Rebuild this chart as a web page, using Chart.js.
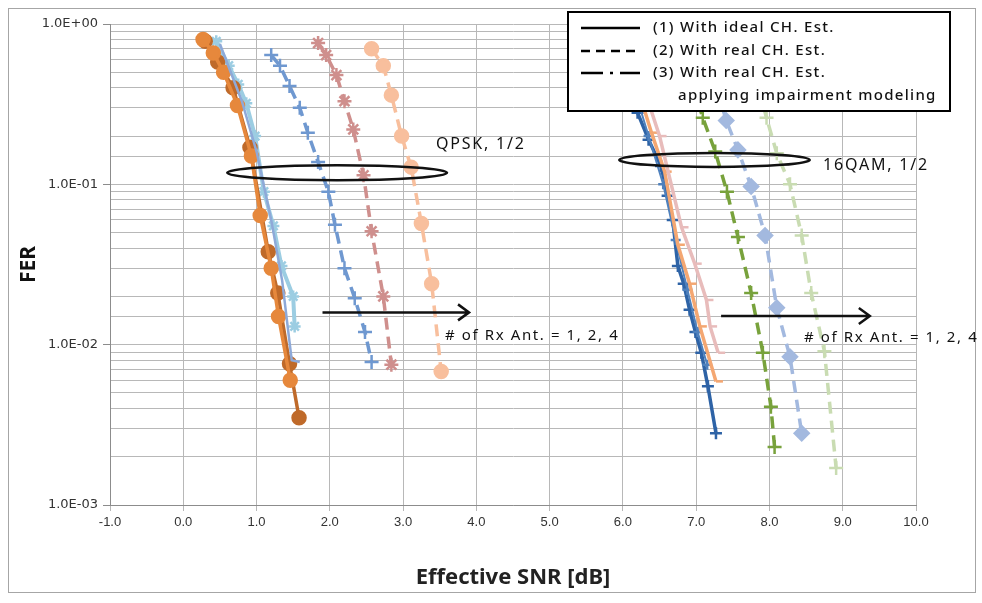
<!DOCTYPE html>
<html>
<head>
<meta charset="utf-8">
<script src="https://cdn.jsdelivr.net/npm/chart.js@4.4.0/dist/chart.umd.min.js"></script>
<style>
  html, body { margin: 0; padding: 0; background: #fff; }
  #wrap { width: 982px; height: 603px; }
</style>
</head>
<body>
<div id="wrap"><canvas id="myChart" width="982" height="603"></canvas></div>
<script>
'use strict';

// *********** DATA ***********
let xTickLabels = ['-1.0', '0.0', '1.0', '2.0', '3.0', '4.0', '5.0', '6.0', '7.0', '8.0', '9.0', '10.0'];
let yTickValues = [0.001, 0.01, 0.1, 1];
let yTickLabels = ['1.0E-03', '1.0E-02', '1.0E-01', '1.0E+00'];

// QPSK, 1/2
let qDarkOrangeSnr = [0.30, 0.47, 0.68, 0.91, 1.16, 1.29, 1.45, 1.58];
let qDarkOrangeFer = [0.78, 0.58, 0.40, 0.17, 0.038, 0.021, 0.0076, 0.0035];
let qOrangeSnr = [0.27, 0.41, 0.55, 0.74, 0.93, 1.05, 1.20, 1.30, 1.46];
let qOrangeFer = [0.80, 0.66, 0.50, 0.31, 0.15, 0.064, 0.030, 0.015, 0.006];
let qLightBlueSnr = [0.45, 0.62, 0.75, 0.86, 0.98, 1.10, 1.23, 1.34, 1.50, 1.52];
let qLightBlueFer = [0.78, 0.55, 0.42, 0.32, 0.20, 0.09, 0.055, 0.031, 0.020, 0.013];
let qBlueSnr = [0.50, 0.80, 1.00, 1.20, 1.35, 1.48, 1.59];
let qBlueFer = [0.75, 0.33, 0.16, 0.06, 0.025, 0.008, 0.0078];
let qBlueDashSnr = [1.20, 1.32, 1.45, 1.59, 1.70, 1.84, 1.98, 2.07, 2.20, 2.34, 2.48, 2.57];
let qBlueDashFer = [0.64, 0.55, 0.41, 0.30, 0.21, 0.138, 0.09, 0.056, 0.030, 0.0195, 0.012, 0.0078];
let qRoseDashSnr = [1.84, 1.95, 2.09, 2.20, 2.32, 2.46, 2.57, 2.73, 2.84];
let qRoseDashFer = [0.76, 0.64, 0.48, 0.33, 0.22, 0.114, 0.051, 0.020, 0.0075];
let qPeachDashSnr = [2.57, 2.73, 2.84, 2.98, 3.11, 3.25, 3.39, 3.52];
let qPeachDashFer = [0.70, 0.55, 0.36, 0.20, 0.128, 0.057, 0.024, 0.0068];

// 16QAM, 1/2
let mDarkBlueSnr = [6.10, 6.20, 6.35, 6.52, 6.61, 6.68, 6.75, 6.83, 6.91, 6.99, 7.07, 7.16, 7.27];
let mDarkBlueFer = [0.42, 0.28, 0.19, 0.13, 0.085, 0.06, 0.031, 0.024, 0.0165, 0.012, 0.0089, 0.0055, 0.0028];
let mBlueSnr = [6.15, 6.35, 6.55, 6.72, 6.88, 7.02, 7.15];
let mBlueFer = [0.40, 0.20, 0.10, 0.045, 0.022, 0.012, 0.0075];
let mOrangeSnr = [6.20, 6.39, 6.57, 6.75, 6.91, 7.05, 7.27];
let mOrangeFer = [0.40, 0.21, 0.12, 0.042, 0.024, 0.013, 0.0059];
let mPinkSnr = [6.30, 6.50, 6.80, 6.98, 7.14, 7.19, 7.30];
let mPinkFer = [0.38, 0.20, 0.054, 0.032, 0.019, 0.013, 0.0089];
let mGreenDashSnr = [6.95, 7.09, 7.26, 7.42, 7.57, 7.75, 7.91, 8.02, 8.07];
let mGreenDashFer = [0.42, 0.26, 0.16, 0.09, 0.047, 0.021, 0.0089, 0.0041, 0.0023];
let mLightBlueDashSnr = [7.28, 7.41, 7.57, 7.75, 7.94, 8.10, 8.28, 8.44];
let mLightBlueDashFer = [0.40, 0.25, 0.164, 0.097, 0.048, 0.017, 0.0084, 0.0028];
let mLightGreenDashSnr = [7.85, 7.96, 8.10, 8.28, 8.44, 8.57, 8.75, 8.91];
let mLightGreenDashFer = [0.40, 0.26, 0.156, 0.10, 0.048, 0.021, 0.0091, 0.0017];

// legend / annotation texts
let legendTexts = ['(1) With ideal CH. Est.', '(2) With real CH. Est.', '(3) With real CH. Est.', 'applying impairment modeling'];
let groupLabels = ['QPSK, 1/2', '16QAM, 1/2'];
let antLabel = '# of Rx Ant. = 1, 2, 4';

// ********** HELPERS *************
function toPoints(xs, ys) {
  let pts = [];
  for (let i = 0; i < xs.length; i++) {
    pts.push({ x: xs[i], y: ys[i] });
  }
  return pts;
}

function series(xs, ys, color, opts) {
  return Object.assign({
    data: toPoints(xs, ys),
    showLine: true,
    borderColor: color,
    backgroundColor: color,
    borderWidth: 3.5,
    pointRadius: 6,
    pointBorderWidth: 2.5,
    pointStyle: 'circle',
    tension: 0
  }, opts || {});
}

function isMajor(value) {
  for (let i = 0; i < yTickValues.length; i++) {
    if (Math.abs(value - yTickValues[i]) < yTickValues[i] * 1e-6) {
      return i;
    }
  }
  return -1;
}

let dash = [12, 7];

let datasets = [
  series(qBlueSnr, qBlueFer, '#8ea9d8', { pointRadius: 0, borderWidth: 2.5 }),
  series(qOrangeSnr, qOrangeFer, '#e6883c', { pointRadius: 6.5 }),
  series(qDarkOrangeSnr, qDarkOrangeFer, '#bf6a2a', { pointRadius: 6.5 }),
  series(qLightBlueSnr, qLightBlueFer, '#9ccde2', { pointStyle: 'star', pointRadius: 6, borderWidth: 4 }),
  series(qBlueDashSnr, qBlueDashFer, '#6f98d0', { borderDash: dash, pointStyle: 'cross', pointRadius: 7 }),
  series(qRoseDashSnr, qRoseDashFer, '#cf8f8d', { borderDash: dash, pointStyle: 'star', pointRadius: 7 }),
  series(qPeachDashSnr, qPeachDashFer, '#f8bf9d', { borderDash: dash, pointRadius: 6.5 }),

  series(mPinkSnr, mPinkFer, '#e8bcbb', { pointStyle: 'dash', pointRadius: 7 }),
  series(mOrangeSnr, mOrangeFer, '#f4a772', { pointStyle: 'dash', pointRadius: 7 }),
  series(mBlueSnr, mBlueFer, '#4f81bd', { pointStyle: 'cross', pointRadius: 5, borderWidth: 2 }),
  series(mDarkBlueSnr, mDarkBlueFer, '#2e63a6', { pointStyle: 'cross', pointRadius: 6 }),
  series(mGreenDashSnr, mGreenDashFer, '#78a23c', { borderDash: dash, pointStyle: 'cross', pointRadius: 7 }),
  series(mLightBlueDashSnr, mLightBlueDashFer, '#a3b9df', { borderDash: dash, pointStyle: 'rectRot', pointRadius: 7 }),
  series(mLightGreenDashSnr, mLightGreenDashFer, '#c9dcb2', { borderDash: dash, pointStyle: 'cross', pointRadius: 7 })
];

// ********** DECORATION PLUGIN ***********
let decorations = {
  id: 'decorations',
  beforeDraw(chart) {
    let c = chart.ctx;
    c.save();
    c.fillStyle = '#fff';
    c.fillRect(0, 0, chart.width, chart.height);
    c.restore();
  },
  afterDraw(chart) {
    let c = chart.ctx;
    let xs = chart.scales.x;
    let ys = chart.scales.y;
    c.save();

    // frame
    c.strokeStyle = '#a6a6a6';
    c.lineWidth = 1;
    c.strokeRect(8.5, 8.5, 967, 584);

    // group ellipses
    c.strokeStyle = '#111';
    c.lineWidth = 2.5;
    c.beginPath();
    c.ellipse((xs.getPixelForValue(0.6) + xs.getPixelForValue(3.6)) / 2, ys.getPixelForValue(0.118),
      (xs.getPixelForValue(3.6) - xs.getPixelForValue(0.6)) / 2, 7.5, 0, 0, Math.PI * 2);
    c.stroke();
    c.beginPath();
    c.ellipse((xs.getPixelForValue(5.95) + xs.getPixelForValue(8.55)) / 2, ys.getPixelForValue(0.142),
      (xs.getPixelForValue(8.55) - xs.getPixelForValue(5.95)) / 2, 7, 0, 0, Math.PI * 2);
    c.stroke();

    // arrows
    function arrow(x0, x1, y) {
      let px0 = xs.getPixelForValue(x0);
      let px1 = xs.getPixelForValue(x1);
      let py = ys.getPixelForValue(y);
      c.beginPath();
      c.moveTo(px0, py);
      c.lineTo(px1, py);
      c.moveTo(px1 - 11, py - 8);
      c.lineTo(px1, py);
      c.lineTo(px1 - 11, py + 8);
      c.stroke();
    }
    arrow(1.9, 3.9, 0.0159);
    arrow(7.34, 9.37, 0.0151);

    // texts
    c.fillStyle = '#111';
    c.font = '16px "Noto Sans", sans-serif';
    c.letterSpacing = '1.8px';
    c.textBaseline = 'middle';
    c.textAlign = 'left';
    c.fillText(groupLabels[0], 436, 144);
    c.fillText(groupLabels[1], 823, 165);
    c.font = '15px "Noto Sans", sans-serif';
    c.letterSpacing = '1.6px';
    c.fillText(antLabel, 445, 336);
    c.fillText(antLabel, 804, 338);

    // legend box
    c.letterSpacing = '0px';
    c.fillStyle = '#fff';
    c.fillRect(568, 12, 382, 99);
    c.strokeStyle = '#000';
    c.lineWidth = 2;
    c.strokeRect(568, 12, 382, 99);

    let ly = [28, 51, 73];
    let styles = [[], [9, 6], [22, 7, 3, 7]];
    c.lineWidth = 2.5;
    for (let i = 0; i < 3; i++) {
      c.setLineDash(styles[i]);
      c.beginPath();
      c.moveTo(581, ly[i]);
      c.lineTo(640, ly[i]);
      c.stroke();
    }
    c.setLineDash([]);
    c.fillStyle = '#111';
    c.font = '500 15px "Noto Sans", sans-serif';
    c.letterSpacing = '1.3px';
    c.fillText(legendTexts[0], 653, ly[0]);
    c.fillText(legendTexts[1], 653, ly[1]);
    c.fillText(legendTexts[2], 653, ly[2]);
    c.fillText(legendTexts[3], 678, 96);

    c.restore();
  }
};

// ********** CHART ***********
let ctx = document.getElementById('myChart').getContext('2d');

let myChartObj = {
  type: 'scatter',
  data: { datasets: datasets },
  options: {
    responsive: false,
    animation: false,
    layout: { padding: { left: 10, top: 24, right: 66, bottom: 10 } },
    plugins: {
      legend: { display: false },
      tooltip: { enabled: false }
    },
    scales: {
      x: {
        type: 'linear',
        min: -1,
        max: 10,
        afterFit: function (scale) { scale.height = 88; },
        ticks: {
          stepSize: 1,
          padding: 4,
          color: '#333',
          font: { family: '"Liberation Sans", sans-serif', size: 13 },
          callback: function (value) {
            let i = Math.round(value + 1);
            return xTickLabels[i];
          }
        },
        grid: { color: '#b8b8b8', tickLength: 6, lineWidth: 1 },
        border: { color: '#8c8c8c' },
        title: {
          display: true,
          text: 'Effective SNR [dB]',
          color: '#222',
          font: { family: '"Noto Sans", sans-serif', size: 22, weight: 'bold' },
          padding: { top: 0, bottom: 2 }
        }
      },
      y: {
        type: 'logarithmic',
        min: 0.001,
        max: 1,
        afterFit: function (scale) { scale.width = 100; },
        ticks: {
          autoSkip: false,
          padding: 5,
          color: '#333',
          font: { family: '"DejaVu Sans", sans-serif', size: 13 },
          callback: function (value) {
            let i = isMajor(value);
            return i >= 0 ? yTickLabels[i] : '';
          }
        },
        grid: {
          color: '#b8b8b8',
          lineWidth: 1,
          tickLength: 7,
          tickColor: function (context) {
            return context.tick && isMajor(context.tick.value) >= 0 ? '#8c8c8c' : 'rgba(0,0,0,0)';
          }
        },
        border: { color: '#8c8c8c' },
        title: {
          display: true,
          text: 'FER',
          color: '#111',
          font: { family: '"Noto Sans", sans-serif', size: 21, weight: 'bold' },
          padding: { top: 6, bottom: 0 }
        }
      }
    }
  },
  plugins: [decorations]
};

const myChart = new Chart(ctx, myChartObj);
</script>
</body>
</html>
